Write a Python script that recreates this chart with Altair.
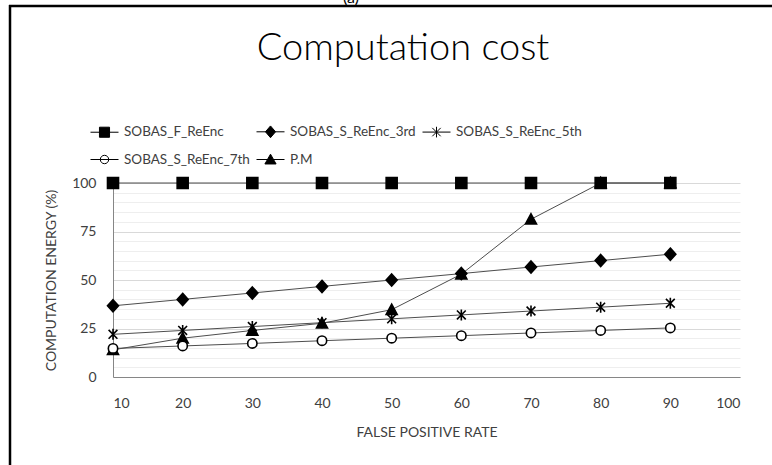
import altair as alt
import pandas as pd

# False positive rate (%) on the x axis
rates = [10, 20, 30, 40, 50, 60, 70, 80, 90]

series_names = [
    "SOBAS_F_ReEnc",
    "SOBAS_S_ReEnc_3rd",
    "SOBAS_S_ReEnc_5th",
    "SOBAS_S_ReEnc_7th",
    "P.M",
]

# Computation energy (%) per scheme
f_reenc = [100, 100, 100, 100, 100, 100, 100, 100, 100]
s_reenc_3rd = [36.7, 40, 43.3, 46.7, 50, 53.3, 56.7, 60, 63.3]
s_reenc_5th = [22, 24, 26, 28, 30, 32, 34, 36, 38]
s_reenc_7th = [14.7, 16, 17.3, 18.7, 20, 21.3, 22.7, 24, 25.3]
pm = [14, 20, 24, 27.7, 34.7, 53, 81.3, 100, 100]

x_ticks = [10, 20, 30, 40, 50, 60, 70, 80, 90, 100]
y_ticks = list(range(0, 101, 5))

# P.M first so the squares of SOBAS_F_ReEnc sit on top where they meet
values = {
    "P.M": pm,
    "SOBAS_S_ReEnc_7th": s_reenc_7th,
    "SOBAS_S_ReEnc_5th": s_reenc_5th,
    "SOBAS_S_ReEnc_3rd": s_reenc_3rd,
    "SOBAS_F_ReEnc": f_reenc,
}
rows = []
for name, ys in values.items():
    for r, v in zip(rates, ys):
        rows.append({"rate": r, "energy": v, "series": name})
df = pd.DataFrame(rows)
one_row = pd.DataFrame({"k": [0]})

FONT = "Lato"
TEXT = "#404040"

# marker outlines for the plot, unit box [-1, 1]
plot_shapes = [
    "M-1,-1H1V1H-1Z",
    "M0,-1.1L1,0L0,1.1L-1,0Z",
    "M-0.8,-0.8L0.8,0.8M-0.8,0.8L0.8,-0.8M0,-1V1",
    "M0.85,0A0.85,0.85,0,1,1,-0.85,0A0.85,0.85,0,1,1,0.85,0Z",
    "M0,-1L1,0.85H-1Z",
]
# legend keys: a short line with the marker in its middle
legend_shapes = [
    "M-1,0H1M-0.36,-0.36H0.36V0.36H-0.36Z",
    "M-1,0H1M0,-0.42L0.36,0L0,0.42L-0.36,0Z",
    "M-1,0H1M-0.3,-0.3L0.3,0.3M-0.3,0.3L0.3,-0.3M0,-0.38V0.38",
    "M0.3,0A0.3,0.3,0,1,1,-0.3,0A0.3,0.3,0,1,1,0.3,0ZM-1,0H1",
    "M-1,0H1M0,-0.38L0.4,0.32H-0.4Z",
]
fills = ["black", "black", "black", "white", "black"]
strokes = ["black", "black", "black", "black", "black"]

x_scale = alt.Scale(domain=[10, 100], nice=False, zero=False)
y_scale = alt.Scale(domain=[0, 100], nice=False)

x_enc = alt.X(
    "rate:Q",
    scale=x_scale,
    axis=alt.Axis(
        values=x_ticks,
        title="FALSE POSITIVE RATE",
        grid=False,
        ticks=False,
        domainColor="#868686",
        labelPadding=19,
        titlePadding=15,
    ),
)
y_enc = alt.Y(
    "energy:Q",
    scale=y_scale,
    axis=alt.Axis(
        values=y_ticks,
        orient="left",
        title="COMPUTATION ENERGY (%)",
        ticks=False,
        domainColor="#868686",
        labelExpr="datum.value % 25 === 0 ? datum.label : ''",
        gridColor={
            "condition": {"test": "datum.value % 25 === 0", "value": "#d9d9d9"},
            "value": "#eeeeee",
        },
        labelPadding=17,
        titlePadding=13,
    ),
)

base = alt.Chart(df)

lines = base.mark_line(color="#4d4d4d", strokeWidth=1).encode(
    x=x_enc, y=y_enc, detail="series:N"
)

points = base.mark_point(
    filled=False, size=121, opacity=1, stroke="black", strokeWidth=1.6
).encode(
    x=x_enc,
    y=y_enc,
    shape=alt.Shape(
        "series:N",
        scale=alt.Scale(domain=series_names, range=plot_shapes),
        legend=None,
    ),
    fill=alt.Fill(
        "series:N",
        scale=alt.Scale(domain=series_names, range=fills),
        legend=None,
    ),
)

# legend only: no rows pass the filter, the entries come from the scale domains
legend_spec = alt.Legend(
    title=None,
    orient="none",
    legendX=-23,
    legendY=-66,
    direction="horizontal",
    columns=3,
    symbolSize=784,
    symbolStrokeWidth=1,
    symbolOpacity=1,
    labelFont=FONT,
    labelFontSize=13.5,
    labelColor=TEXT,
    labelOffset=5,
    columnPadding=4,
    rowPadding=5,
    labelLimit=300,
)
legend_layer = (
    base.transform_filter("false")
    .mark_point(size=784, opacity=1, strokeWidth=1)
    .encode(
        x=x_enc,
        y=y_enc,
        shape=alt.Shape(
            "series:N",
            scale=alt.Scale(domain=series_names, range=legend_shapes),
            legend=legend_spec,
        ),
        fill=alt.Fill(
            "series:N",
            scale=alt.Scale(domain=series_names, range=fills),
            legend=legend_spec,
        ),
        stroke=alt.Stroke(
            "series:N",
            scale=alt.Scale(domain=series_names, range=strokes),
            legend=legend_spec,
        ),
    )
)

# chart heading and the frame around the figure
heading = alt.Chart(one_row).mark_text(
    text="Computation cost", font=FONT, fontSize=38, fontWeight=300, color="black",
    align="center", baseline="alphabetic",
).encode(x=alt.value(290), y=alt.value(-123))

frame_top = alt.Chart(one_row).mark_rule(color="black", strokeWidth=2.5).encode(
    x=alt.value(-104), x2=alt.value(680), y=alt.value(-177)
)
frame_left = alt.Chart(one_row).mark_rule(color="black", strokeWidth=2.5).encode(
    x=alt.value(-103), y=alt.value(-178), y2=alt.value(300)
)
panel_tag = alt.Chart(one_row).mark_text(
    text="(a)", font=FONT, fontSize=16, color="black", baseline="alphabetic"
).encode(x=alt.value(238), y=alt.value(-180))

chart = (
    alt.layer(lines, points, legend_layer, heading, frame_top, frame_left, panel_tag)
    .resolve_scale(shape="independent", fill="independent", stroke="independent")
    .properties(
        width=627,
        height=194,
        padding={"left": 113, "top": 183, "right": 32, "bottom": 88},
        autosize=alt.AutoSizeParams(type="none"),
    )
    .configure_view(stroke=None)
    .configure_axis(
        labelFont=FONT,
        labelFontSize=14,
        labelColor=TEXT,
        titleFont=FONT,
        titleFontSize=14,
        titleFontWeight="normal",
        titleColor=TEXT,
    )
)

chart.save("out.html", embed_options={"renderer": "svg", "actions": False})
